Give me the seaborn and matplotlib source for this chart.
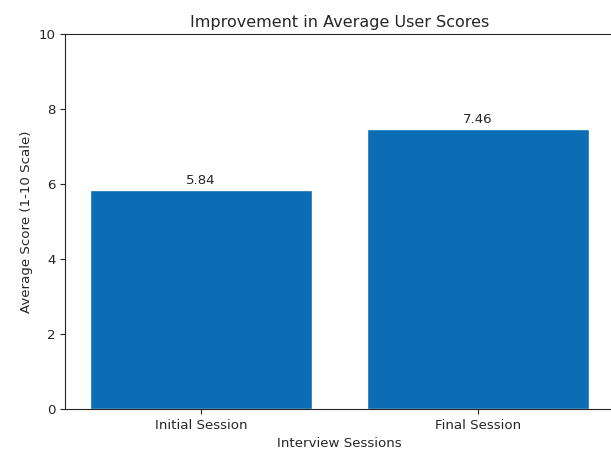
import matplotlib
matplotlib.use("Agg")
from matplotlib import pyplot as plt
import pandas as pd
import seaborn as sns

SESSIONS = ["Initial Session", "Final Session"]
SCORES = [5.84, 7.46]
BAR_COLOR = "#0b6db3"

df = pd.DataFrame({"session": SESSIONS, "score": SCORES})

sns.set_style("ticks")
plt.rcParams["font.family"] = ["DejaVu Sans"]

fig = plt.figure(figsize=(6.11, 4.5), dpi=100)
ax = fig.add_axes([65 / 611, 41 / 450, 549 / 611, 375 / 450])

sns.barplot(data=df, x="session", y="score", color=BAR_COLOR, saturation=1,
            width=0.8, ax=ax)
ax.bar_label(ax.containers[0], fmt="%.2f", padding=2, fontsize=9.6)

ax.set_xlim(-0.49, 1.49)
ax.set_ylim(0, 10)
ax.set_yticks(range(0, 11, 2))
ax.tick_params(labelsize=9.6)
ax.set_title("Improvement in Average User Scores", fontsize=11.5, pad=5)
ax.set_xlabel("Interview Sessions", fontsize=9.6)
ax.set_ylabel("Average Score (1-10 Scale)", fontsize=9.6)

fig.savefig("out.png", dpi=100)
